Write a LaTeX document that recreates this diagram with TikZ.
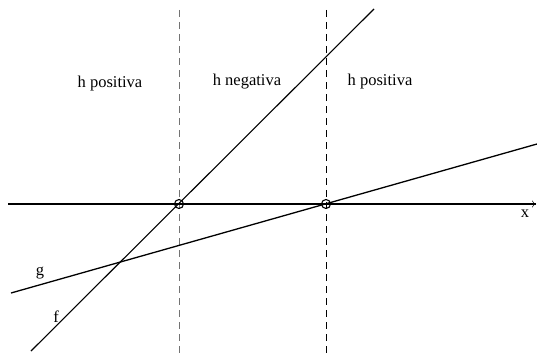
\documentclass[tikz,border=0pt]{standalone}
\usepackage{fontspec}
\setmainfont{Liberation Serif}
\usetikzlibrary{arrows.meta}
\begin{document}
\begin{tikzpicture}[x=1pt,y=-1pt,
  lbl/.style={font=\fontsize{16.5}{18}\selectfont, inner sep=0pt},
  axisline/.style={line width=1.6pt},
  fline/.style={line width=1.1pt},
  gline/.style={line width=1.3pt},
  vdash/.style={line width=1pt, dash pattern=on 7pt off 5pt},
  root/.style={circle, draw, line width=1.1pt, minimum size=9pt, inner sep=0pt}]
\useasboundingbox (0,0) rectangle (537,353);
% coordinates
\coordinate (axL) at (8,204);
\coordinate (axR) at (536,204);
\coordinate (fA) at (31,351);
\coordinate (fB) at (374,9);
\coordinate (gA) at (11,293);
\coordinate (gB) at (537,144);
\coordinate (d1t) at (179,10);
\coordinate (d1b) at (179,353);
\coordinate (d2t) at (326,10);
\coordinate (d2b) at (326,353);
% dashed verticals
\draw[vdash, black!55] (d1t) -- (d1b);
\draw[vdash] (d2t) -- (d2b);
% lines
\draw[axisline, -{To[length=4pt,width=7pt,line width=0.5pt]}] (axL) -- (axR);
\draw[fline] (fA) -- (fB);
\draw[gline] (gA) -- (gB);
% roots
\node[root] (r1) at (179,204) {};
\node[root] (r2) at (326,204) {};
% labels
\node[lbl] (t1) at (110,84) {h positiva};
\node[lbl] (t2) at (247,82) {h negativa};
\node[lbl] (t3) at (380,82) {h positiva};
\node[lbl] (lx) at (525,214) {x};
\node[lbl] (lg) at (40,273) {g};
\node[lbl] (lf) at (56,317) {f};
\end{tikzpicture}
\end{document}
